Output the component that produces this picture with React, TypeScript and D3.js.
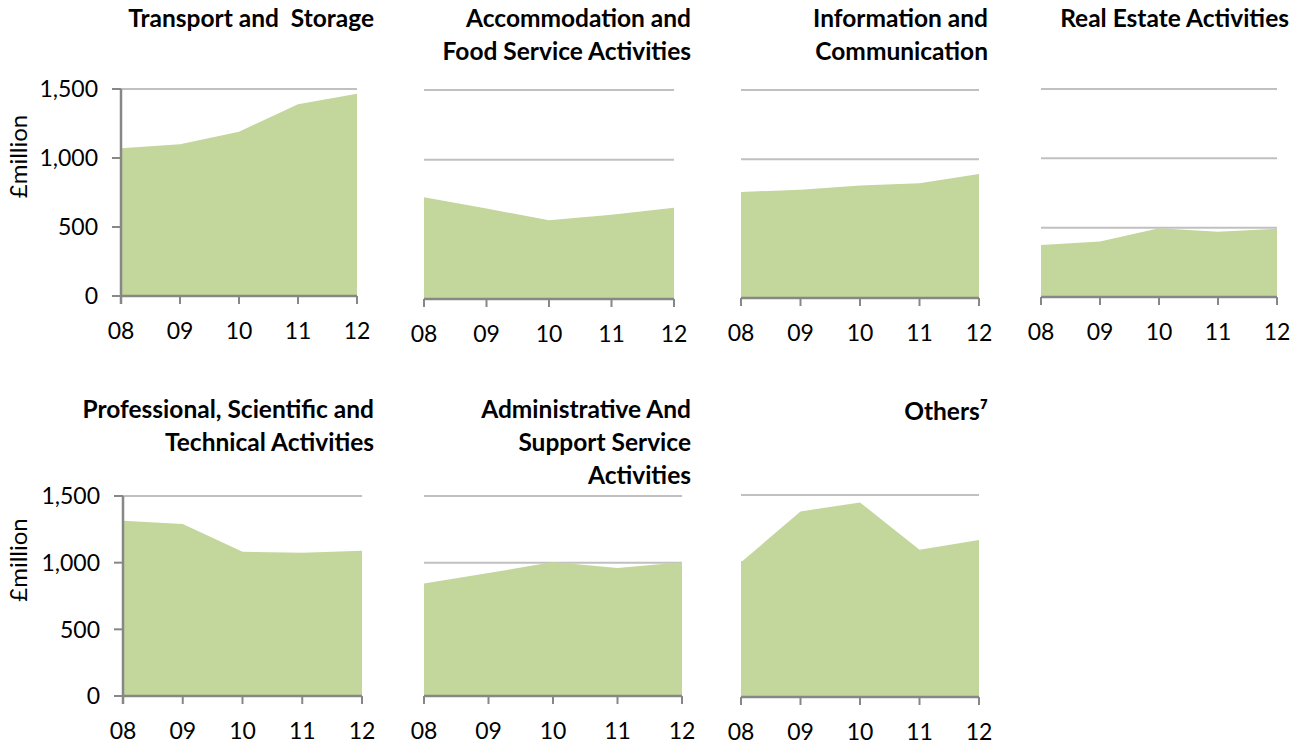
import React, { useRef, useEffect } from 'react';
import * as d3 from 'd3';

// Years (20xx) along the x axis
const years = ['08', '09', '10', '11', '12'];
const yTicks = [0, 500, 1000, 1500];

// £million by sector, 2008-2012
const transportStorage = [1070, 1100, 1190, 1390, 1465];
const accommodationFood = [730, 650, 565, 605, 655];
const infoComm = [765, 780, 812, 828, 895];
const realEstate = [375, 400, 495, 470, 493];
const professional = [1315, 1290, 1082, 1075, 1090];
const administrative = [843, 922, 1005, 960, 1003];
const others = [1000, 1378, 1445, 1093, 1165];

const FONT = 'Lato, "Open Sans", sans-serif';
const FILL = '#c3d69b';
const AXIS = '#878787';
const GRID = '#c0c0c0';

interface Panel {
  title: string[];
  values: number[];
  x0: number;
  x1: number;
  yTop: number;
  y0: number;
  titleRight: number;
  titleBase: number;
  yAxis: boolean;
}

const panels: Panel[] = [
  { title: ['Transport and  Storage'], values: transportStorage, x0: 121, x1: 357, yTop: 89, y0: 296, titleRight: 374, titleBase: 27, yAxis: true },
  { title: ['Accommodation and', 'Food Service Activities'], values: accommodationFood, x0: 424, x1: 674, yTop: 90, y0: 299, titleRight: 691, titleBase: 27, yAxis: false },
  { title: ['Information and', 'Communication'], values: infoComm, x0: 741, x1: 979, yTop: 90, y0: 298, titleRight: 988, titleBase: 27, yAxis: false },
  { title: ['Real Estate Activities'], values: realEstate, x0: 1041, x1: 1277, yTop: 89, y0: 297, titleRight: 1289, titleBase: 27, yAxis: false },
  { title: ['Professional, Scientific and', 'Technical Activities'], values: professional, x0: 123, x1: 362, yTop: 496, y0: 696, titleRight: 374, titleBase: 418, yAxis: true },
  { title: ['Administrative And', 'Support Service', 'Activities'], values: administrative, x0: 424, x1: 682, yTop: 496, y0: 696, titleRight: 691, titleBase: 418, yAxis: false },
  { title: ['Others\u2077'], values: others, x0: 741, x1: 979, yTop: 495, y0: 697, titleRight: 988, titleBase: 420, yAxis: false },
];

const App: React.FC = () => {
  const svgRef = useRef<SVGSVGElement | null>(null);

  useEffect(() => {
    if (!svgRef.current) return;
    const svg = d3.select(svgRef.current);
    svg.selectAll('*').remove();

    panels.forEach((p) => {
      const x = d3.scalePoint<string>().domain(years).range([p.x0, p.x1]);
      const y = d3.scaleLinear().domain([0, 1500]).range([p.y0, p.yTop]);
      const g = svg.append('g');

      // gridlines (behind the area)
      g.selectAll('.grid')
        .data(yTicks.filter((t) => t > 0))
        .enter()
        .append('line')
        .attr('x1', p.x0)
        .attr('x2', p.x1)
        .attr('y1', (d) => y(d))
        .attr('y2', (d) => y(d))
        .attr('stroke', GRID)
        .attr('stroke-width', 2);

      const area = d3.area<number>()
        .x((_, i) => x(years[i]) as number)
        .y0(y(0))
        .y1((d) => y(d));

      g.append('path')
        .datum(p.values)
        .attr('d', area)
        .attr('fill', FILL);

      // x axis
      g.append('line')
        .attr('x1', p.x0)
        .attr('x2', p.x1)
        .attr('y1', y(0))
        .attr('y2', y(0))
        .attr('stroke', AXIS)
        .attr('stroke-width', 2.5);

      g.selectAll('.xtick')
        .data(years)
        .enter()
        .append('line')
        .attr('x1', (d) => x(d) as number)
        .attr('x2', (d) => x(d) as number)
        .attr('y1', y(0))
        .attr('y2', y(0) + 8)
        .attr('stroke', AXIS)
        .attr('stroke-width', 2);

      g.selectAll('.xlabel')
        .data(years)
        .enter()
        .append('text')
        .attr('x', (d) => x(d) as number)
        .attr('y', y(0) + 43)
        .attr('text-anchor', 'middle')
        .attr('font-family', FONT)
        .attr('font-size', 23)
        .attr('fill', '#000')
        .text((d) => d);

      if (p.yAxis) {
        g.append('line')
          .attr('x1', p.x0)
          .attr('x2', p.x0)
          .attr('y1', p.yTop)
          .attr('y2', y(0) + 8)
          .attr('stroke', AXIS)
          .attr('stroke-width', 2.5);

        g.selectAll('.ytick')
          .data(yTicks)
          .enter()
          .append('line')
          .attr('x1', p.x0 - 9)
          .attr('x2', p.x0)
          .attr('y1', (d) => y(d))
          .attr('y2', (d) => y(d))
          .attr('stroke', AXIS)
          .attr('stroke-width', 2);

        g.selectAll('.ylabel')
          .data(yTicks)
          .enter()
          .append('text')
          .attr('x', p.x0 - 23)
          .attr('y', (d) => y(d))
          .attr('dy', '0.36em')
          .attr('text-anchor', 'end')
          .attr('font-family', FONT)
          .attr('font-size', 23)
          .attr('fill', '#000')
          .text((d) => d3.format(',')(d));

        g.append('text')
          .attr('transform', `translate(27,${(p.yTop + p.y0) / 2 - 36}) rotate(-90)`)
          .attr('text-anchor', 'middle')
          .attr('font-family', FONT)
          .attr('font-size', 24)
          .attr('fill', '#000')
          .text('£million');
      }

      g.selectAll('.title')
        .data(p.title)
        .enter()
        .append('text')
        .attr('x', p.titleRight)
        .attr('y', (_, i) => p.titleBase + i * 33)
        .attr('text-anchor', 'end')
        .attr('font-family', FONT)
        .attr('font-weight', 'bold')
        .attr('font-size', 24.5)
        .attr('fill', '#000')
        .style('white-space', 'pre')
        .text((d) => d);
    });
  }, []);

  return (
    <svg
      ref={svgRef}
      width={1301}
      height={747}
      style={{ position: 'absolute', left: 0, top: 0, background: '#fff' }}
    />
  );
};

export default App;
